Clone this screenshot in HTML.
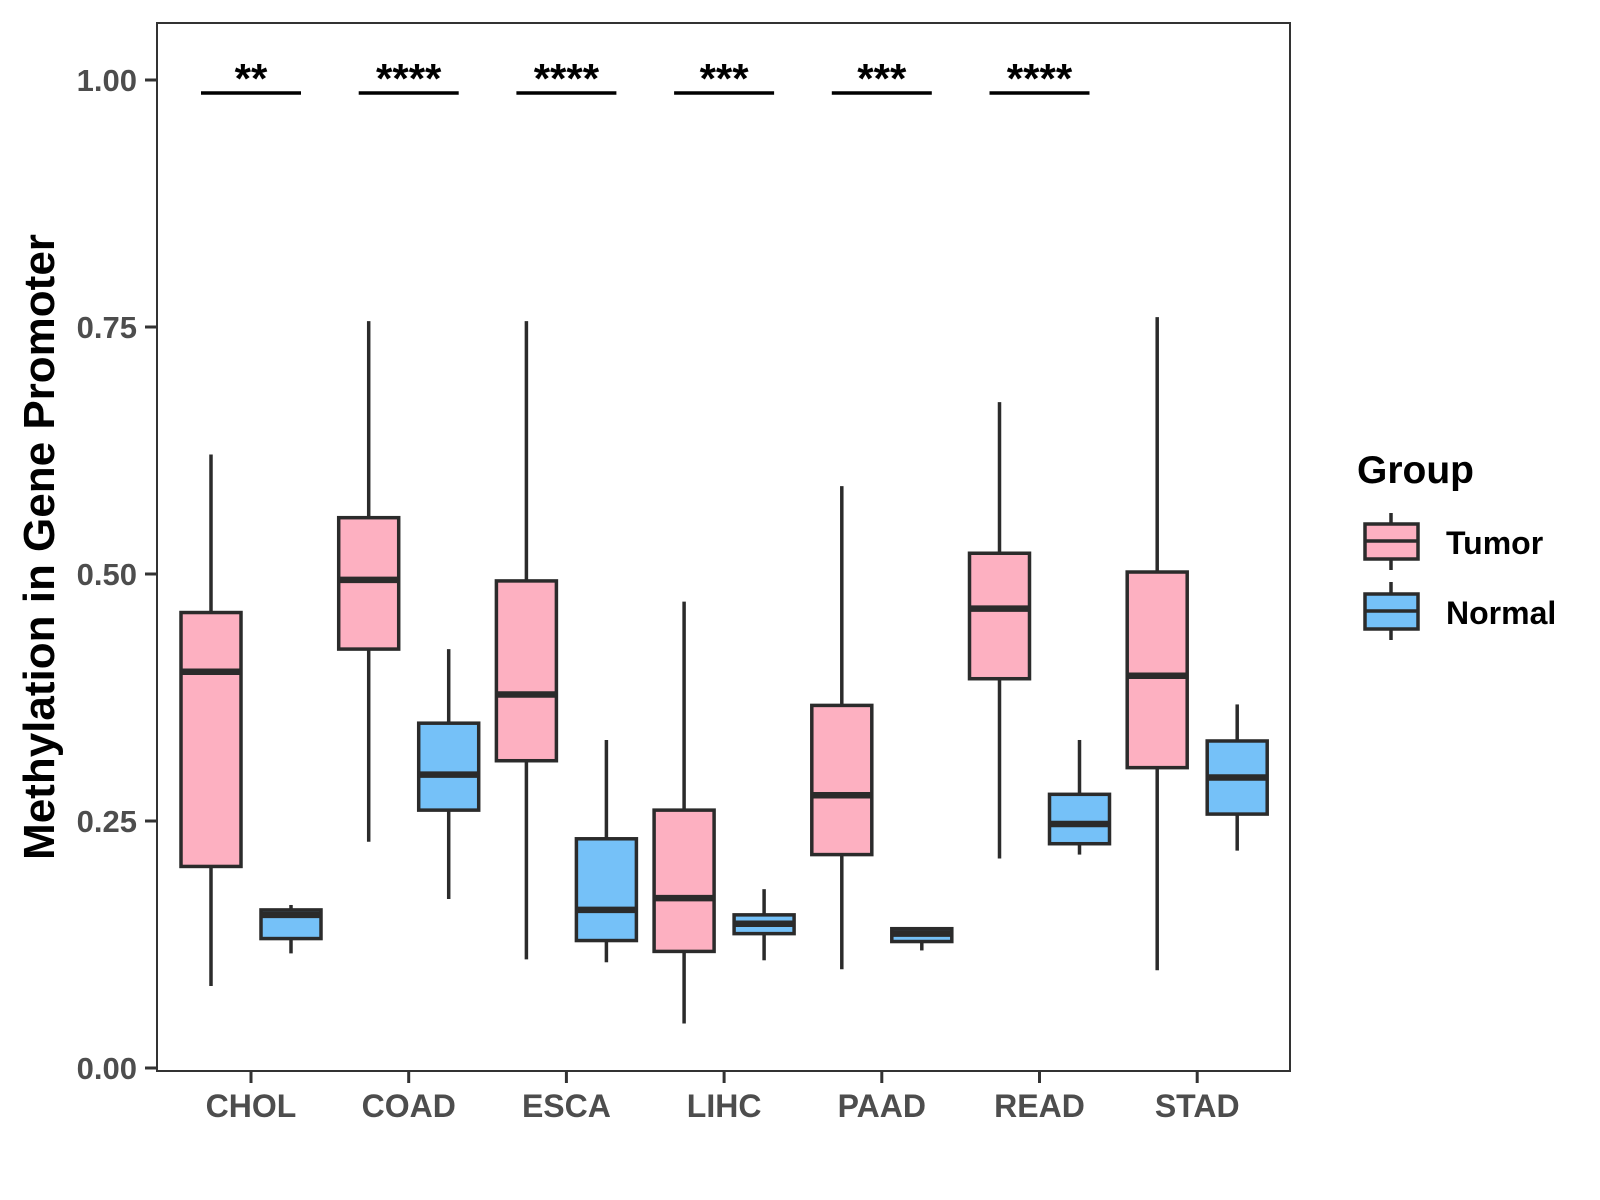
<!DOCTYPE html>
<html><head><meta charset="utf-8"><style>
body{margin:0;background:#fff}
svg{display:block;font-family:"Liberation Sans",Arial,sans-serif}
</style></head><body>
<svg id="chart" width="1600" height="1200" viewBox="0 0 1600 1200">
<rect x="0" y="0" width="1600" height="1200" fill="#fff"/>
<g id="plot"></g>
<rect x="157" y="23" width="1133" height="1048" fill="none" stroke="#333" stroke-width="2"/>
<g id="axes"></g>
<text transform="translate(54,547) rotate(-90)" text-anchor="middle" font-size="44" font-weight="bold" fill="#000">Methylation in Gene Promoter</text>
<g>
<text x="1357" y="483" font-size="39" font-weight="bold" fill="#000">Group</text>
<g>
<line x1="1391" y1="513" x2="1391" y2="570" stroke="#2b2b2b" stroke-width="3.5"/>
<rect x="1365" y="524" width="53" height="35" fill="#FDB0C1" stroke="#2b2b2b" stroke-width="3.5"/>
<line x1="1365" y1="541" x2="1418" y2="541" stroke="#2b2b2b" stroke-width="3.5"/>
<text x="1446" y="554" font-size="32" font-weight="bold" fill="#000">Tumor</text>
</g>
<g>
<line x1="1391" y1="582" x2="1391" y2="640" stroke="#2b2b2b" stroke-width="3.5"/>
<rect x="1365" y="594" width="53" height="35" fill="#75C1F8" stroke="#2b2b2b" stroke-width="3.5"/>
<line x1="1365" y1="611" x2="1418" y2="611" stroke="#2b2b2b" stroke-width="3.5"/>
<text x="1446" y="624" font-size="32" font-weight="bold" fill="#000">Normal</text>
</g>
</g>
</svg>
<script>
const categories = ["CHOL","COAD","ESCA","LIHC","PAAD","READ","STAD"];
// [low whisker, Q1, median, Q3, high whisker]
const tumorStats = [
 [0.083,0.204,0.401,0.461,0.621],
 [0.229,0.424,0.494,0.557,0.756],
 [0.110,0.311,0.378,0.493,0.756],
 [0.045,0.118,0.172,0.261,0.472],
 [0.100,0.216,0.276,0.367,0.589],
 [0.212,0.394,0.465,0.521,0.674],
 [0.099,0.304,0.397,0.502,0.760]
];
const normalStats = [
 [0.116,0.131,0.155,0.160,0.165],
 [0.171,0.261,0.297,0.349,0.424],
 [0.107,0.129,0.160,0.232,0.332],
 [0.109,0.136,0.146,0.155,0.181],
 [0.119,0.128,0.136,0.141,0.142],
 [0.216,0.227,0.247,0.277,0.332],
 [0.220,0.257,0.294,0.331,0.368]
];
const significance = ["**","****","****","***","***","****",""];
const yTicks = [0,0.25,0.5,0.75,1.0];
const yTickLabels = ["0.00","0.25","0.50","0.75","1.00"];

const NS="http://www.w3.org/2000/svg";
const y = v => 1068 - v*988;
const x = i => 251 + i*157.7;
function mk(tag, attrs, parent){const e=document.createElementNS(NS,tag);for(const k in attrs)e.setAttribute(k,attrs[k]);parent.appendChild(e);return e;}
const plot=document.getElementById('plot'), axes=document.getElementById('axes');
const stroke="#2b2b2b";
function drawBox(s, cx, fill, name){
  const g=mk('g',{},plot);
  
  
  mk('line',{x1:cx,x2:cx,y1:y(s[4]),y2:y(s[3]),stroke:stroke,'stroke-width':3.5},g);
  mk('line',{x1:cx,x2:cx,y1:y(s[1]),y2:y(s[0]),stroke:stroke,'stroke-width':3.5},g);
  mk('rect',{x:cx-30,y:y(s[3]),width:60,height:Math.max(1,y(s[1])-y(s[3])),fill:fill,stroke:stroke,'stroke-width':3.5},g);
  mk('line',{x1:cx-30,x2:cx+30,y1:y(s[2]),y2:y(s[2]),stroke:stroke,'stroke-width':6.5},g);
}
categories.forEach((c,i)=>{
  drawBox(tumorStats[i], x(i)-40, "#FDB0C1", "box-tumor-"+c.toLowerCase());
  drawBox(normalStats[i], x(i)+40, "#75C1F8", "box-normal-"+c.toLowerCase());
  if(significance[i]){
    const l=mk('line',{x1:x(i)-50,x2:x(i)+50,y1:93,y2:93,stroke:"#000",'stroke-width':3.5},plot);
    
    
    const t=mk('text',{x:x(i),y:93,'text-anchor':'middle','font-size':42,'font-weight':'bold',fill:'#000'},plot);
    t.textContent=significance[i];
    
    
  }
  const tk=mk('line',{x1:x(i),x2:x(i),y1:1071,y2:1083,stroke:"#333",'stroke-width':3},axes);
  
  
  const tl=mk('text',{x:x(i),y:1117,'text-anchor':'middle','font-size':32,'font-weight':'bold',fill:'#4d4d4d'},axes);
  tl.textContent=c;
  
  
});
yTicks.forEach((v,i)=>{
  const tk=mk('line',{x1:145,x2:157,y1:y(v),y2:y(v),stroke:"#333",'stroke-width':3},axes);
  
  
  const tl=mk('text',{x:137,y:y(v)+11,'text-anchor':'end','font-size':31,'font-weight':'bold',fill:'#4d4d4d'},axes);
  tl.textContent=yTickLabels[i];
  
  
});
</script>
</body></html>
